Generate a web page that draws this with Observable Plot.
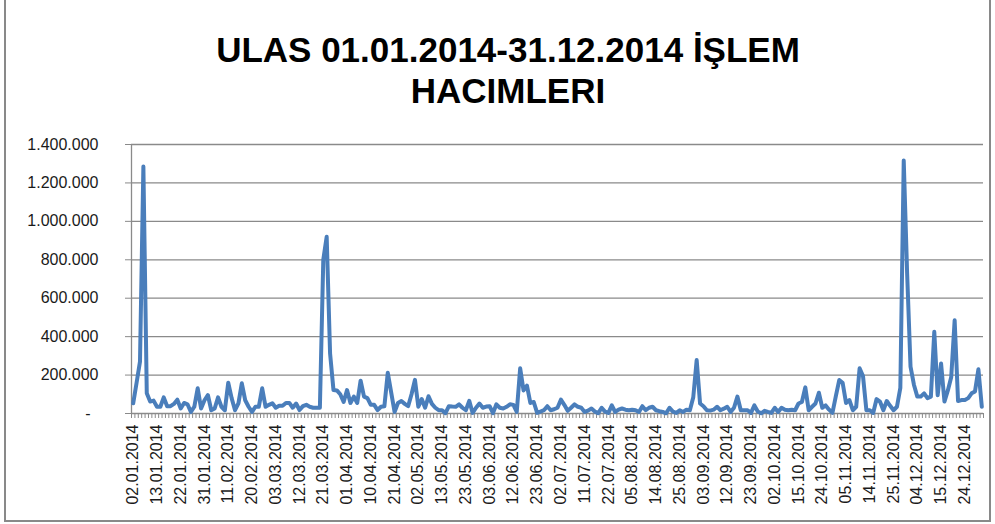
<!DOCTYPE html>
<html>
<head>
<meta charset="utf-8">
<script src="https://cdn.jsdelivr.net/npm/d3@7"></script>
<script src="https://cdn.jsdelivr.net/npm/@observablehq/plot@0.6"></script>
<style>
  body { margin: 0; background: #fff; }
  #chart { position: relative; width: 995px; height: 524px; overflow: hidden; font-family: "Liberation Sans", Arial, sans-serif; background: #fff; }
  #frame { position: absolute; left: 4px; top: -4px; width: 987px; height: 526px; border: 2px solid #898989; box-sizing: border-box; }
  #title { position: absolute; left: 21px; top: 0; width: 974px; height: 120px; box-sizing: border-box; padding-top: 29px; text-align: center; font-weight: bold; font-size: 35px; line-height: 41px; color: #000; }
  #plot { position: absolute; left: 0; top: 120px; }
</style>
</head>
<body>
<div id="chart">
  <div id="title">ULAS 01.01.2014-31.12.2014 İŞLEM<br>HACIMLERI</div>
  <div id="plot"></div>
  <div id="frame"></div>
</div>
<script>
// Trading days of 2014 (day numbers per month, Jan..Dec)
const daysByMonth = [
  [2,3,6,7,8,9,10,13,14,15,16,17,20,21,22,23,24,27,28,29,30,31],
  [3,4,5,6,7,10,11,12,13,14,17,18,19,20,21,24,25,26,27,28],
  [3,4,5,6,7,10,11,12,13,14,17,18,19,20,21,24,25,26,27,28,31],
  [1,2,3,4,7,8,9,10,11,14,15,16,17,18,21,22,24,25,28,29,30],
  [2,5,6,7,8,9,12,13,14,15,16,20,21,22,23,26,27,28,29,30],
  [2,3,4,5,6,9,10,11,12,13,16,17,18,19,20,23,24,25,26,27,30],
  [1,2,3,4,7,8,9,10,11,14,15,16,17,18,21,22,23,24,25,31],
  [1,4,5,6,7,8,11,12,13,14,15,18,19,20,21,22,25,26,27,28,29],
  [1,2,3,4,5,8,9,10,11,12,15,16,17,18,19,22,23,24,25,26,29,30],
  [1,2,3,8,9,10,13,14,15,16,17,20,21,22,23,24,27,28,30,31],
  [3,4,5,6,7,10,11,12,13,14,17,18,19,20,21,24,25,26,27,28],
  [1,2,3,4,5,8,9,10,11,12,15,16,17,18,19,22,23,24,25,26,29,30,31]
];

// Daily trading volume
const volumes = [
  53000,160000,270000,1285000,105000,62000,67000,35000,35000,84000,
  38000,38000,50000,72000,26000,55000,48000,8000,35000,131000,
  26000,69000,96000,17000,26000,84000,35000,17000,160000,80000,
  17000,53000,157000,69000,35000,8000,35000,35000,131000,35000,
  45000,53000,30000,40000,40000,55000,55000,30000,52000,18000,
  38000,45000,35000,30000,30000,30000,800000,920000,313000,122000,
  120000,100000,60000,122000,55000,88000,55000,171000,88000,80000,
  45000,45000,18000,35000,38000,212000,110000,8000,55000,65000,
  50000,38000,100000,175000,35000,75000,30000,90000,50000,30000,
  17000,17000,2000,38000,36000,35000,48000,30000,17000,66000,
  3000,30000,52000,30000,36000,38000,2000,48000,30000,26000,
  35000,48000,45000,8000,235000,120000,145000,55000,60000,3000,
  10000,17000,38000,17000,22000,30000,72000,45000,14000,30000,
  48000,35000,30000,8000,15000,26000,10000,2000,30000,10000,
  3000,42000,8000,20000,26000,20000,17000,20000,17000,8000,
  38000,17000,30000,35000,17000,12000,8000,1000,30000,10000,
  3000,17000,8000,20000,17000,85000,278000,52000,38000,17000,
  15000,20000,35000,17000,25000,35000,8000,30000,88000,17000,
  17000,17000,3000,42000,10000,1000,14000,8000,3000,30000,
  8000,30000,20000,17000,20000,17000,52000,60000,136000,17000,
  35000,52000,108000,30000,42000,20000,3000,90000,174000,160000,
  55000,70000,17000,35000,235000,195000,17000,17000,3000,75000,
  62000,17000,65000,40000,17000,35000,133000,1317000,730000,244000,
  150000,88000,88000,105000,80000,88000,425000,95000,260000,62000,
  120000,190000,485000,65000,70000,70000,80000,105000,115000,230000,
  35000
];

const yTicks = [0, 200000, 400000, 600000, 800000, 1000000, 1200000, 1400000];
const labelEvery = 7;

const pad = n => String(n).padStart(2, "0");
const dates = daysByMonth.flatMap((days, m) => days.map(d => `${pad(d)}.${pad(m + 1)}.2014`));
const data = volumes.map((v, i) => ({i, date: dates[i], v}));
const labelIdx = d3.range(0, dates.length, labelEvery);
const boundaries = d3.range(-0.5, dates.length, 1);

const fmtY = d => d === 0 ? "-\u2002" : d3.format(",")(d).replace(/,/g, ".");

const chart = Plot.plot({
  width: 995,
  height: 404,
  marginLeft: 131,
  marginRight: 12,
  marginTop: 24,
  marginBottom: 111,
  x: {type: "linear", domain: [-0.5, dates.length - 0.5]},
  y: {domain: [0, 1400000]},
  style: {fontFamily: "'Liberation Sans', Arial, sans-serif", fontSize: "16px", color: "#1a1a1a", background: "transparent", overflow: "visible"},
  marks: [
    Plot.ruleY(yTicks, {stroke: "#8a8a8a", strokeWidth: 1.3}),
    Plot.ruleX([-0.5], {stroke: "#8a8a8a", strokeWidth: 1.3}),
    Plot.axisY({ticks: yTicks, tickFormat: fmtY, tickSize: 6, tickPadding: 27, stroke: "#8a8a8a", fontSize: 16, label: null}),
    Plot.axisX({ticks: boundaries, tickSize: 5, tickFormat: () => "", stroke: "#8a8a8a", label: null}),
    Plot.axisX({ticks: labelIdx, tickFormat: i => dates[i], tickSize: 0, tickPadding: 11, tickRotate: -90, fontSize: 16, label: null}),
    Plot.lineY(data, {x: "i", y: "v", stroke: "#4A7EBB", strokeWidth: 4, strokeLinejoin: "round", strokeLinecap: "round"})
  ]
});
document.getElementById("plot").appendChild(chart);
</script>
</body>
</html>
